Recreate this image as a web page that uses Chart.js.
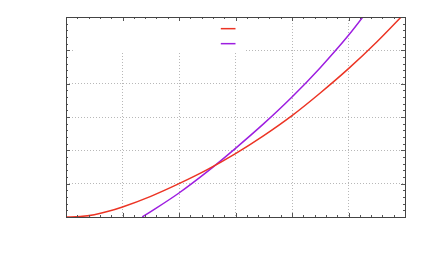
<!DOCTYPE html>
<html>
<head>
<meta charset="utf-8">
<script src="https://cdn.jsdelivr.net/npm/chart.js@4"></script>
<style>
html,body{margin:0;padding:0;background:#fff;}
#wrap{width:432px;height:267px;}
</style>
</head>
<body>
<div id="wrap"><canvas id="c" width="432" height="267"></canvas></div>
<script>
// Data (axis units: major grid = 1)
const redX = [0, 0.25, 0.5, 0.75, 1, 1.5, 2, 2.5, 3, 3.5, 4, 4.5, 5, 5.5, 6];
const redY = [0, 0.015, 0.07, 0.17, 0.30, 0.62, 1.00, 1.42, 1.90, 2.44, 3.04, 3.72, 4.45, 5.25, 6.12];
const purpleX = [1.35, 1.5, 2, 2.5, 3, 3.5, 4, 4.5, 5, 5.5];
const purpleY = [0, 0.16, 0.72, 1.36, 2.06, 2.8, 3.6, 4.48, 5.45, 6.55];
const seriesLabels = ['', ''];
const xMin = 0, xMax = 6, yMin = 0, yMax = 6;
const majorStep = 1, minorStep = 0.2;

const RED = '#ec3424';
const PURPLE = '#9d1ee0';

function pts(xs, ys) { return xs.map((x, i) => ({x: x, y: ys[i]})); }

const framePlugin = {
  id: 'frame',
  beforeDatasetsDraw(chart) {
    const ctx = chart.ctx, a = chart.chartArea;
    const xs = chart.scales.x, ys = chart.scales.y;
    ctx.save();
    ctx.fillStyle = '#fff';
    const kx0 = xs.getPixelForValue(0.16), kx1 = xs.getPixelForValue(3.15);
    const ky1 = ys.getPixelForValue(4.97);
    ctx.fillRect(kx0, a.top + 1, kx1 - kx0, ky1 - a.top - 1);
    const sx0 = xs.getPixelForValue(2.74), sx1 = xs.getPixelForValue(3.0);
    const samp = [[RED, ys.getPixelForValue(5.65)], [PURPLE, ys.getPixelForValue(5.2)]];
    ctx.lineWidth = 1.5;
    samp.forEach(s => {
      ctx.strokeStyle = s[0];
      ctx.beginPath(); ctx.moveTo(sx0, s[1]); ctx.lineTo(sx1, s[1]); ctx.stroke();
    });
    ctx.restore();
  },
  afterDatasetsDraw(chart) {
    const ctx = chart.ctx, a = chart.chartArea;
    const xs = chart.scales.x, ys = chart.scales.y;
    ctx.save();
    ctx.strokeStyle = '#555';
    ctx.lineWidth = 1;
    for (let v = xMin; v <= xMax + 1e-9; v += minorStep) {
      const major = Math.abs(v - Math.round(v)) < 1e-6;
      const len = major ? 4 : 2;
      const px = Math.round(xs.getPixelForValue(v)) + 0.5;
      ctx.beginPath();
      ctx.moveTo(px, a.bottom); ctx.lineTo(px, a.bottom - len);
      ctx.moveTo(px, a.top); ctx.lineTo(px, a.top + len);
      ctx.stroke();
    }
    for (let v = yMin; v <= yMax + 1e-9; v += minorStep) {
      const major = Math.abs(v - Math.round(v)) < 1e-6;
      const len = major ? 4 : 2;
      const py = Math.round(ys.getPixelForValue(v)) + 0.5;
      ctx.beginPath();
      ctx.moveTo(a.left, py); ctx.lineTo(a.left + len, py);
      ctx.moveTo(a.right, py); ctx.lineTo(a.right - len, py);
      ctx.stroke();
    }
    ctx.strokeStyle = '#444';
    ctx.strokeRect(Math.round(a.left) + 0.5, Math.round(a.top) + 0.5,
      Math.round(a.right - a.left), Math.round(a.bottom - a.top));
    ctx.restore();
  }
};

const gridColor = (c) => (c.tick ? '#b8b8b8' : 'rgba(0,0,0,0)');

new Chart(document.getElementById('c'), {
  type: 'line',
  data: {
    datasets: [
      {label: seriesLabels[0], data: pts(redX, redY), borderColor: RED, borderWidth: 1.5,
       pointRadius: 0, cubicInterpolationMode: 'monotone', fill: false},
      {label: seriesLabels[1], data: pts(purpleX, purpleY), borderColor: PURPLE, borderWidth: 1.5,
       pointRadius: 0, cubicInterpolationMode: 'monotone', fill: false}
    ]
  },
  options: {
    responsive: false,
    animation: false,
    devicePixelRatio: 1,
    layout: {padding: {left: 66, right: 27, top: 17, bottom: 50}},
    plugins: {legend: {display: false}, tooltip: {enabled: false}},
    scales: {
      x: {
        type: 'linear', min: xMin, max: xMax,
        ticks: {display: false, stepSize: majorStep},
        grid: {color: gridColor, lineWidth: 1, drawTicks: false},
        border: {display: false, dash: [1, 2]}
      },
      y: {
        type: 'linear', min: yMin, max: yMax,
        ticks: {display: false, stepSize: majorStep},
        grid: {color: gridColor, lineWidth: 1, drawTicks: false},
        border: {display: false, dash: [1, 2]}
      }
    }
  },
  plugins: [framePlugin]
});
</script>
</body>
</html>
